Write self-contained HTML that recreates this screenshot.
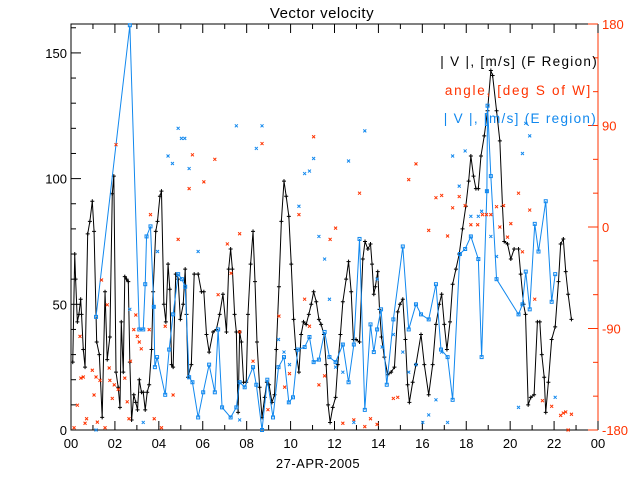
<!DOCTYPE html>
<html><head><meta charset="utf-8"><style>
body{margin:0;background:#fff}
svg{display:block;font-family:"Liberation Sans",sans-serif}
</style></head><body>
<svg id="chart" width="640" height="480" viewBox="0 0 640 480" xmlns="http://www.w3.org/2000/svg">
<rect width="640" height="480" fill="#fff"/>
<text x="322" y="18" font-size="15" text-anchor="middle" letter-spacing="0.5">Vector velocity</text>
<g id="axes"></g>
<g id="marks"></g>
<g font-size="13.5">
<text x="598" y="66" text-anchor="end" fill="#000" letter-spacing="1.3">| V |, [m/s] (F Region)</text>
<text x="592" y="95" text-anchor="end" fill="#ff3300" letter-spacing="1.7">angle, [deg S of W]</text>
<text x="597" y="123" text-anchor="end" fill="#1188ee" letter-spacing="1.3">| V |, [m/s] (E region)</text>
</g>
<text x="318" y="468" font-size="13" text-anchor="middle" letter-spacing="0.5">27-APR-2005</text>
</svg>
<script>
const xTickLabels=["00","02","04","06","08","10","12","14","16","18","20","22","00"];
const yTickLabels=["0","50","100","150"];
const angleTickLabels=["-180","-90","0","90","180"];
const fHours=[0.08,0.17,0.21,0.29,0.36,0.44,0.48,0.56,0.64,0.76,0.86,0.97,1.05,1.17,1.29,1.42,1.55,1.65,1.77,1.88,1.95,2.05,2.15,2.23,2.29,2.38,2.45,2.53,2.61,2.68,2.76,2.86,2.95,3.03,3.11,3.21,3.29,3.38,3.47,3.56,3.67,3.74,3.86,3.94,4.05,4.12,4.23,4.32,4.42,4.5,4.58,4.65,4.77,4.88,4.98,5.11,5.2,5.26,5.33,5.48,5.61,5.79,5.94,6.05,6.17,6.29,6.47,6.62,6.77,6.92,7.08,7.18,7.27,7.35,7.45,7.53,7.61,7.68,7.76,7.86,7.98,8.06,8.18,8.29,8.38,8.47,8.59,8.7,8.82,8.92,9.02,9.15,9.27,9.35,9.47,9.58,9.7,9.8,9.92,10.03,10.14,10.24,10.38,10.48,10.59,10.71,10.83,10.94,11.05,11.17,11.29,11.39,11.52,11.62,11.71,11.8,11.92,12.05,12.15,12.27,12.38,12.53,12.64,12.76,12.86,12.98,13.14,13.29,13.39,13.52,13.64,13.71,13.79,13.86,13.97,14.05,14.14,14.27,14.42,14.58,14.73,14.88,14.98,15.11,15.23,15.33,15.41,15.56,15.71,15.94,16.09,16.29,16.47,16.62,16.77,16.88,17,17.12,17.26,17.38,17.53,17.68,17.83,17.98,18.11,18.21,18.33,18.44,18.55,18.67,18.82,18.97,19.12,19.2,19.38,19.53,19.65,19.73,19.88,20.03,20.18,20.38,20.48,20.61,20.7,20.82,20.94,21.09,21.24,21.35,21.44,21.55,21.62,21.74,21.89,22.05,22.2,22.3,22.42,22.53,22.64,22.79];
const fSpeed=[27,70,60,43,46,52,46,32,25,78,83,91,79,35,30,5,55,28,37,94,101,23,17,9,43,23,61,60,59,27,4,14,11,8,20,15,15,8,15,18,32,55,79,83,93,95,50,43,66,56,26,25,62,60,44,50,64,46,21,26,62,62,55,55,38,31,39,40,46,54,39,64,72,64,46,39,7,39,35,19,19,46,66,79,59,35,17,5,13,19,18,11,14,32,57,83,99,93,85,66,44,32,23,38,43,42,46,50,55,51,44,42,38,26,10,3,9,13,26,38,51,60,67,55,36,36,35,68,75,72,74,66,54,57,63,48,37,29,22,23,25,47,50,52,36,18,11,19,26,38,26,14,26,42,50,54,42,32,43,58,64,70,80,89,99,109,101,96,96,109,117,127,143,141,127,115,89,75,74,68,72,72,62,50,46,10,13,14,43,43,30,21,7,19,36,41,59,74,76,63,54,44];
const eHours=[1.14,2.68,3.11,3.29,3.38,3.44,3.62,3.77,3.82,3.92,4.29,4.47,4.65,4.88,5.05,5.2,5.38,5.53,5.79,6.02,6.29,6.55,6.7,6.88,7.27,7.53,7.68,7.91,8.29,8.44,8.7,8.94,9.2,9.45,9.7,9.92,10.11,10.33,10.64,10.86,11.05,11.29,11.55,11.77,12.05,12.38,12.64,12.88,13.14,13.38,13.64,13.79,13.94,14.12,14.38,14.68,15.11,15.38,15.71,15.94,16.29,16.62,16.85,17.15,17.38,17.71,17.95,18.21,18.55,18.7,18.94,18.97,19.12,19.38,20.38,20.56,20.71,20.89,21.12,21.29,21.62,21.89,22.05];
const eSpeed=[45,161,40,40,58,77,81,49,25,29,14,32,46,62,60,57,21,19,5,15,26,15,40,9,5,9,19,17,25,18,0,20,5,25,29,11,13,32,33,37,27,28,39,29,27,34,19,34,76,8,42,31,40,48,18,44,73,40,50,46,44,58,32,29,12,70,72,77,68,29,95,129,101,60,46,50,63,48,82,71,91,51,62];
const aHours=[0.14,0.29,0.41,0.45,0.56,0.64,0.71,0.97,1.05,1.14,1.2,1.32,1.39,1.55,1.65,1.74,1.77,1.88,1.97,2.05,2.15,2.45,2.56,2.64,2.71,2.86,2.95,3.02,3.11,3.2,3.56,3.62,3.79,4.12,4.29,4.65,4.88,5.38,5.53,6.05,6.55,6.7,7.12,7.29,7.68,7.68,8.29,8.7,8.97,9.47,9.73,9.95,10.38,10.64,10.86,11.05,11.29,11.55,11.8,12.05,12.38,12.88,13.14,13.38,13.64,13.94,14.68,14.88,15.38,15.71,16.29,16.62,16.88,17.15,17.38,17.68,17.95,18.21,18.52,18.74,18.92,19.12,19.38,19.53,19.7,19.88,20.03,20.38,20.56,20.89,21.12,21.47,21.89,22.3,22.42,22.53,22.64,22.79];
const aAngle=[-178,-158,-97,-134,-133,-174,-170,-127,-149,-133,-173,-136,-47,-178,-69,-125,-136,-152,-140,73,-144,-134,-155,-170,-119,-91,-78,-97,-102,-108,-91,11,-170,-178,-88,-149,-11,34,64,40,60,-60,-15,-41,-6,-93,-119,74,-162,-79,-142,-130,11,-64,-88,80,-140,-132,-11,-1,-174,-171,30,-177,-170,-175,-152,-151,42,56,-3,26,28,-8,17,27,19,2,2,11,11,11,18,0,19,-9,3,30,-22,15,-64,-154,-159,-167,-165,-164,-180,-166];
const bxHours=[1.14,2.68,3.29,3.77,3.94,4.42,4.62,4.88,5.03,5.18,5.38,5.79,7.53,7.68,8.44,8.7,9.45,9.7,9.95,10.38,10.64,10.86,11.05,11.29,11.55,11.77,12.05,12.38,12.64,12.88,13.38,13.94,14.17,14.68,15.11,15.38,15.71,16.02,16.29,16.62,16.88,17.15,17.38,17.68,17.95,18.21,18.55,18.7,18.94,19.12,19.38,20.38,20.56,20.71,20.89,22.05];
const bxSpeed=[0,48,3,49,71,109,106,120,116,116,104,71,121,4,112,121,36,31,26,89,102,103,108,77,68,52,25,23,107,3,119,60,33,38,31,23,26,3,6,12,31,3,109,97,111,85,85,87,95,77,69,9,110,122,117,13];

const L=71,R=598,T=24,B=430,YMAX=161.5;
const NS="http://www.w3.org/2000/svg";
function xs(h){return L+(R-L)*h/24;}
function ys(v){return B-(B-T)*v/YMAX;}
function ya(a){return B-(B-T)*(a+180)/360;}
const axes=document.getElementById('axes'),marks=document.getElementById('marks');
function mk(tag,attrs,parent){const e=document.createElementNS(NS,tag);for(const k in attrs)e.setAttribute(k,attrs[k]);parent.appendChild(e);return e;}

let fr=mk('path',{d:`M${R},${T}H${L}V${B}H${R}`,fill:'none',stroke:'#000','stroke-width':1},axes);


let ra=mk('line',{x1:R,y1:T,x2:R,y2:B,stroke:'#ff3300'},axes);


xTickLabels.forEach((lab,i)=>{
  const x=xs(i*2);
  mk('line',{x1:x,y1:B,x2:x,y2:B-9,stroke:'#000'},axes);
  mk('line',{x1:x,y1:T,x2:x,y2:T+9,stroke:'#000'},axes);
  if(i<12){const xm=xs(i*2+1);mk('line',{x1:xm,y1:B,x2:xm,y2:B-5,stroke:'#000'},axes);mk('line',{x1:xm,y1:T,x2:xm,y2:T+5,stroke:'#000'},axes);}
  const t=mk('text',{x:x,y:B+18,'font-size':13,'text-anchor':'middle'},axes);
  t.textContent=lab;
  
  
});
for(let v=0;v<=160;v+=10){const y=ys(v);mk('line',{x1:L,y1:y,x2:L+(v%50===0?10:5),y2:y,stroke:'#000'},axes);}
yTickLabels.forEach((lab,i)=>{
  const t=mk('text',{x:L-4,y:ys(i*50)+5,'font-size':13,'text-anchor':'end'},axes);
  t.textContent=lab;
  
  
});
angleTickLabels.forEach((lab,i)=>{
  const a=-180+i*90,y=ya(a);
  mk('line',{x1:R,y1:y,x2:R-10,y2:y,stroke:'#ff3300'},axes);
  const t=mk('text',{x:R+4,y:y+5,'font-size':13,fill:'#ff3300'},axes);
  t.textContent=lab;
  
  
});
for(let a=-180;a<=180;a+=30){if(a%90){mk('line',{x1:R,y1:ya(a),x2:R-5,y2:ya(a),stroke:'#ff3300'},axes);}}

let fl=mk('polyline',{points:fHours.map((h,i)=>xs(h)+','+ys(fSpeed[i])).join(' '),fill:'none',stroke:'#000','stroke-width':1},marks);


fHours.forEach((h,i)=>{const x=xs(h),y=ys(fSpeed[i]);
  const p=mk('path',{d:`M${x-2},${y}H${x+2}M${x},${y-2}V${y+2}`,stroke:'#000'},marks);
  
  
});
let el=mk('polyline',{points:eHours.map((h,i)=>xs(h)+','+ys(eSpeed[i])).join(' '),fill:'none',stroke:'#1188ee','stroke-width':1},marks);


eHours.forEach((h,i)=>{const x=xs(h),y=ys(eSpeed[i]);
  const p=mk('rect',{x:x-1.5,y:y-1.5,width:3,height:3,fill:'none',stroke:'#1188ee'},marks);
  
  
});
function cross(x,y,c){return mk('path',{d:`M${x-1.5},${y-1.5}L${x+1.5},${y+1.5}M${x-1.5},${y+1.5}L${x+1.5},${y-1.5}`,stroke:c,'stroke-width':1},marks);}
aHours.forEach((h,i)=>{
  const p=cross(xs(h),ya(aAngle[i]),'#ff3300');
  
  
});
bxHours.forEach((h,i)=>{
  const p=cross(xs(h),ys(bxSpeed[i]),'#1188ee');
  
  
});
</script>
</body></html>
